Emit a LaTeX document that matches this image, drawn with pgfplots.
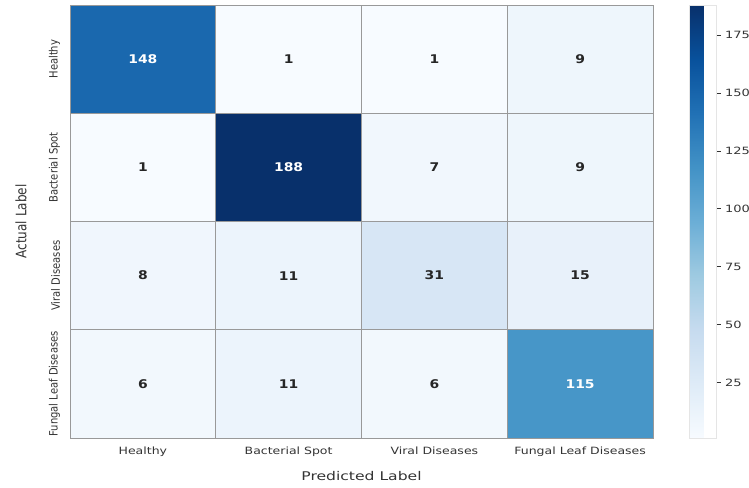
\documentclass[border=0pt]{standalone}
\usepackage{pgfplots}
\pgfplotsset{compat=1.18}
\usepackage{pgfplotstable}
\usepackage{fontspec}
\setmainfont{DejaVu Sans}

\definecolor{txt}{HTML}{262626}
\definecolor{ticktxt}{HTML}{333333}

% confusion matrix: x = predicted class, y = actual class, c = count
\pgfplotstableread{
x y c
0 0 148
1 0 1
2 0 1
3 0 9
0 1 1
1 1 188
2 1 7
3 1 9
0 2 8
1 2 11
2 2 31
3 2 15
0 3 6
1 3 11
2 3 6
3 3 115
}\cmtable

\pgfplotsset{colormap={blues}{
  rgb255=(247,251,255) rgb255=(222,235,247) rgb255=(198,219,239)
  rgb255=(158,202,225) rgb255=(107,174,214) rgb255=(66,146,198)
  rgb255=(33,113,181) rgb255=(8,81,156) rgb255=(8,48,107)}}

\pgfplotsset{
  /pgf/number format/assume math mode=true,
  cell label/.style={only marks, mark=none, draw=none,
    point meta=explicit,
    nodes near coords={\pgfmathprintnumber{\pgfplotspointmeta}},
    nodes near coords align=center,
    every node near coord/.append style={font=\fontsize{12}{14}\bfseries\selectfont,
      xscale=1.16, anchor=center, text=#1}},
}

\begin{document}
\begin{tikzpicture}
\begin{axis}[
  name=main,
  scale only axis,
  width=583pt, height=433pt,
  xmin=-0.5, xmax=3.5, ymin=-0.5, ymax=3.5,
  y dir=reverse,
  xtick={0,1,2,3}, ytick={0,1,2,3},
  xticklabels={Healthy, Bacterial Spot, Viral Diseases, Fungal Leaf Diseases},
  yticklabels={Healthy, Bacterial Spot, Viral Diseases, Fungal Leaf Diseases},
  major tick length=0pt,
  xticklabel shift=5pt,
  yticklabel shift=6pt,
  x tick label style={font=\fontsize{10}{12}\selectfont, text=ticktxt, xscale=1.25},
  y tick label style={font=\fontsize{10}{12}\selectfont, text=ticktxt, rotate=90, anchor=south, yscale=1.15},
  xlabel={Predicted Label},
  ylabel={Actual Label},
  xlabel style={font=\fontsize{12}{14}\selectfont, text=ticktxt, xscale=1.3,
    at={(axis description cs:0.5,-0.088)}, anchor=center},
  ylabel style={font=\fontsize{12}{14}\selectfont, text=ticktxt, yscale=1.2,
    at={(axis description cs:-0.084,0.5)}, anchor=center},
  axis line style={draw=gray!80},
  colormap name=blues,
  point meta min=1, point meta max=188,
  colorbar,
  colorbar style={
    at={(parent axis.north east)}, anchor=north west,
    xshift=28pt, width=27pt, height=433pt,
    ytick={25,50,75,100,125,150,175},
    yticklabel style={font=\fontsize{10}{12}\selectfont, text=ticktxt, xscale=1.3},
    major tick length=4pt,
    tick align=outside,
    ytick pos=right,
    tick style={draw=ticktxt, line width=0.6pt},
    axis line style={draw=gray!20},
  },
]
\addplot[matrix plot*, mesh/cols=4, point meta=explicit, draw=gray!80, line width=0.7pt]
  table[x=x, y=y, meta=c]{\cmtable};

% cell annotations: dark text on light cells, white text on dark cells
\addplot[cell label=txt, x filter/.expression={\thisrow{c}>94 ? nan : x}]
  table[x=x, y=y, meta=c]{\cmtable};
\addplot[cell label=white, x filter/.expression={\thisrow{c}>94 ? x : nan}]
  table[x=x, y=y, meta=c]{\cmtable};

\coordinate (sw) at (axis cs:-0.5,3.5);
\end{axis}
\pgfresetboundingbox
\path[use as bounding box] ([shift={(-70pt,-49pt)}]sw) rectangle ++(749pt,487pt);
\end{tikzpicture}
\end{document}
